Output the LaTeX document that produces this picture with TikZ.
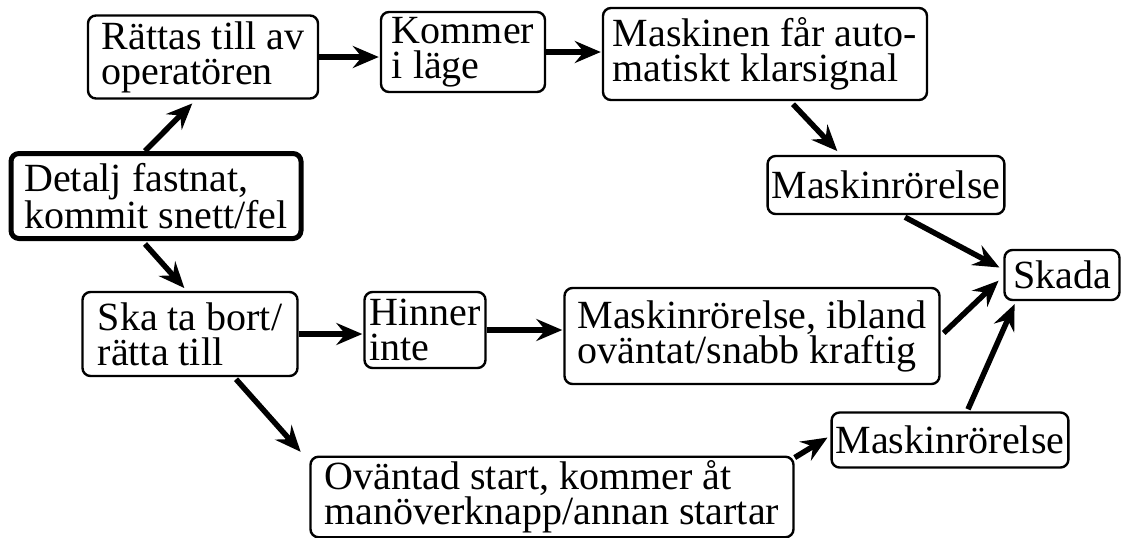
\documentclass[tikz,border=0pt]{standalone}
\usepackage{fontspec}
\setmainfont{Liberation Serif}
\usetikzlibrary{arrows.meta}

\tikzset{
  box/.style={draw, line width=2.4pt, rounded corners=8pt, align=left, inner sep=4pt},
  startbox/.style={box, line width=5pt},
  arr/.style={line width=5.5pt, -{Stealth[length=26pt, width=22pt, inset=9pt]}, shorten >=1pt}
}

\begin{document}
\begin{tikzpicture}[x=1pt, y=-1pt, font=\fontsize{40}{35}\selectfont]
  \useasboundingbox (0,0) rectangle (1125,538);

  % upper path
  \node[box, minimum width=230pt, minimum height=83pt] (raettas) at (203,57) {Rättas till av\\operatören};
  \node[box, minimum width=164pt, minimum height=80pt] (kommer) at (463,52) {Kommer\\i läge};
  \node[box, minimum width=324pt, minimum height=92pt] (maskinen) at (765,54) {Maskinen får auto-\\matiskt klarsignal};
  \node[startbox, minimum width=290pt, minimum height=85pt] (detalj) at (156,196) {Detalj fastnat,\\kommit snett/fel};
  \node[box, minimum width=228pt, minimum height=58pt] (mtop) at (886,185) {Maskinrörelse};
  \node[box, minimum width=115pt, minimum height=50pt] (skada) at (1062,275) {Skada};

  % lower path
  \node[box, minimum width=215pt, minimum height=84pt] (ska) at (190,334) {Ska ta bort/\\rätta till};
  \node[box, minimum width=121pt, minimum height=76pt] (hinner) at (425,330) {Hinner\\inte};
  \node[box, minimum width=375pt, minimum height=96pt] (mib) at (752,336) {Maskinrörelse, ibland\\oväntat/snabb kraftig};
  \node[box, minimum width=220pt, minimum height=55pt] (mbot) at (950,440) {Maskinrörelse};
  \node[box, minimum width=483pt, minimum height=78pt] (ovantad) at (552,497) {Oväntad start, kommer åt\\manöverknapp/annan startar};

  \draw[arr] ([xshift=-11pt]detalj.north) -- ([xshift=-10pt,yshift=-3pt]raettas.south);
  \draw[arr] (raettas.east) -- (raettas.east -| kommer.west);
  \draw[arr] (kommer.east) -- (kommer.east -| maskinen.west);
  \draw[arr] ([xshift=28pt,yshift=-3pt]maskinen.south) -- ([xshift=-48pt,yshift=3pt]mtop.north);
  \draw[arr] ([xshift=19pt,yshift=-2pt]mtop.south) -- ([xshift=-3pt,yshift=7pt]skada.west);
  \draw[arr] ([xshift=-11pt,yshift=-3pt]detalj.south) -- ([xshift=-5pt,yshift=2pt]ska.north);
  \draw[arr] (ska.east) -- (ska.east -| hinner.west);
  \draw[arr] (hinner.east) -- (hinner.east -| mib.west);
  \draw[arr] ([xshift=3pt,yshift=3pt]mib.east) -- ([xshift=-4pt,yshift=-5pt]skada.west);
  \draw[arr] ([xshift=46pt,yshift=-2pt]ska.south) -- ([xshift=-8pt,yshift=3pt]ovantad.north west);
  \draw[arr] ([yshift=-2pt]ovantad.north east) -- ([xshift=-2pt,yshift=3pt]mbot.west);
  \draw[arr] ([xshift=18pt,yshift=2pt]mbot.north) -- ([xshift=-47pt,yshift=-2pt]skada.south);
\end{tikzpicture}
\end{document}
